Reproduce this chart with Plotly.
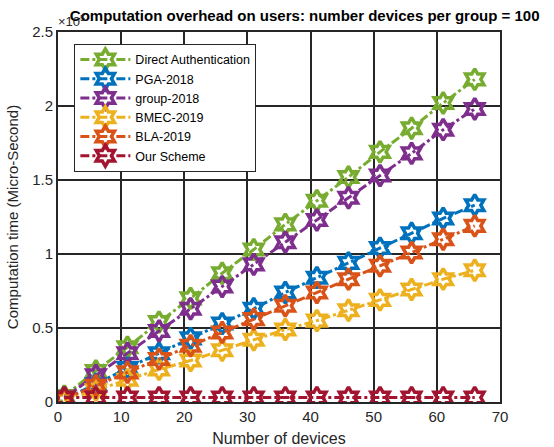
import plotly.graph_objects as go

# Number of devices (x) and computation time in units of 1e5 micro-seconds
devices = [1, 6, 11, 16, 21, 26, 31, 36, 41, 46, 51, 56, 61, 66]

direct_auth = [0.04, 0.21, 0.37, 0.54, 0.70, 0.87, 1.03, 1.20, 1.36, 1.52, 1.69, 1.85, 2.02, 2.18]
pga_2018 = [0.02, 0.12, 0.23, 0.33, 0.43, 0.53, 0.63, 0.74, 0.84, 0.94, 1.04, 1.14, 1.24, 1.33]
group_2018 = [0.03, 0.18, 0.33, 0.48, 0.63, 0.78, 0.93, 1.08, 1.23, 1.38, 1.53, 1.68, 1.84, 1.98]
bmec_2019 = [0.01, 0.08, 0.15, 0.22, 0.28, 0.35, 0.42, 0.49, 0.55, 0.62, 0.69, 0.76, 0.83, 0.89]
bla_2019 = [0.02, 0.11, 0.20, 0.29, 0.38, 0.47, 0.56, 0.65, 0.74, 0.83, 0.92, 1.01, 1.10, 1.19]
our_scheme = [0.03, 0.03, 0.03, 0.03, 0.03, 0.03, 0.03, 0.03, 0.03, 0.03, 0.03, 0.03, 0.03, 0.03]

series_names = ["Direct Authentication", "PGA-2018", "group-2018", "BMEC-2019", "BLA-2019", "Our Scheme"]
series_values = [direct_auth, pga_2018, group_2018, bmec_2019, bla_2019, our_scheme]
series_colors = ["#77AC30", "#0072BD", "#7E2F8E", "#EDB120", "#D95319", "#A2142F"]

x_ticks = [0, 10, 20, 30, 40, 50, 60, 70]
y_ticks = [0, 0.5, 1, 1.5, 2, 2.5]

FONT = "Liberation Sans, Arial"

fig = go.Figure()
for name, vals, color in zip(series_names, series_values, series_colors):
    fig.add_trace(go.Scatter(
        x=devices, y=vals, name=name, mode="lines+markers",
        line=dict(color=color, width=3, dash="dashdot"),
        marker=dict(symbol="hexagram-open", size=16, color=color,
                    line=dict(color=color, width=3.5)),
    ))

axis_common = dict(
    showline=True, linecolor="#262626", linewidth=2, mirror=True,
    showgrid=True, gridcolor="#262626", gridwidth=2,
    zeroline=False, ticks="", automargin=False,
    tickfont=dict(family=FONT, size=15, color="#262626"),
)

fig.update_xaxes(range=[0, 70], tickvals=x_ticks, **axis_common,
                 title=dict(text="Number of devices", standoff=12,
                            font=dict(family=FONT, size=16, color="#262626")))
fig.update_yaxes(range=[0, 2.5], tickvals=y_ticks, **axis_common,
                 title=dict(text="Computation time (Micro-Second)", standoff=10,
                            font=dict(family=FONT, size=15, color="#262626")))

fig.add_annotation(xref="paper", yref="paper", x=0.0, y=1.0, xanchor="left", yanchor="bottom",
                   yshift=1, xshift=-2, text="×10<sup>5</sup>", showarrow=False,
                   font=dict(family=FONT, size=13, color="#262626"))

fig.update_layout(
    width=554, height=447,
    margin=dict(l=58, r=54, t=32, b=45),
    paper_bgcolor="white", plot_bgcolor="white",
    title=dict(text="<b>Computation overhead on users: number devices per group = 100</b>",
               x=0.55, xanchor="center", y=0.977, yanchor="top",
               font=dict(family=FONT, size=15, color="black")),
    legend=dict(x=0.037, y=0.968, xanchor="left", yanchor="top",
                bgcolor="white", bordercolor="#262626", borderwidth=1,
                font=dict(family=FONT, size=12.5, color="black"),
                itemwidth=50, tracegroupgap=0),
    showlegend=True,
)

fig.write_html("out.html")
